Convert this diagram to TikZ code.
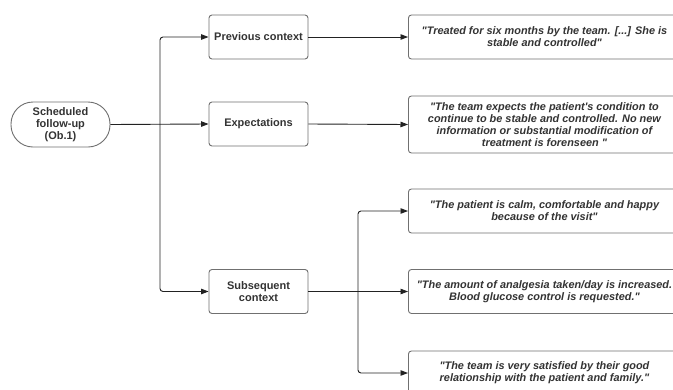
\documentclass[tikz,border=0pt]{standalone}
\usepackage{fontspec}
\setmainfont{Liberation Sans}[Ligatures=TeXOff]
\usetikzlibrary{arrows.meta}
\definecolor{txt}{HTML}{333333}
\definecolor{bord}{HTML}{707070}
\definecolor{lin}{HTML}{222222}
\begin{document}
\begin{tikzpicture}[x=1pt,y=-1pt,
  lbl/.style={draw=bord, line width=0.9pt, rounded corners=3pt, fill=white,
    minimum width=99pt, minimum height=44pt, inner sep=2pt, align=center,
    text=txt, font=\fontsize{11}{11.7}\selectfont\bfseries},
  startbox/.style={lbl, rounded corners=22pt, minimum height=45pt},
  quote/.style={draw=bord, line width=0.9pt, rounded corners=3pt, fill=white,
    minimum width=272pt, minimum height=44pt, inner sep=3pt, align=center, anchor=west,
    text=txt, font=\fontsize{10.9}{12}\selectfont\bfseries\itshape},
  conn/.style={draw=lin, line width=0.9pt, -{Triangle[length=7.5pt,width=5.5pt]}}
]
\useasboundingbox (0,0) rectangle (673,389);
\clip (0,0) rectangle (673,389);
\fill[white] (0,0) rectangle (673,389);

\node[startbox] (start) at (60.5,124.5) {Scheduled\\follow-up\\(Ob.1)};
\node[lbl] (prev) at (258.5,37) {Previous context};
\node[lbl] (exp) at (258.5,124) {Expectations};
\node[lbl] (sub) at (258.5,291.5) {Subsequent\\context};

\node[quote, minimum height=44pt] (q1) at (408,37) {"Treated for six months by the team. [...] She is\\stable and controlled"};
\node[quote, minimum height=57pt] (q2) at (408,124.5) {"The team expects the patient's condition to\\continue to be stable and controlled. No new\\information or substantial modification of\\treatment is forenseen "};
\node[quote] (q3) at (408,211) {"The patient is calm, comfortable and happy\\because of the visit"};
\node[quote] (q4) at (408,291.5) {"The amount of analgesia taken/day is increased.\\Blood glucose control is requested."};
\node[quote] (q5) at (408,373) {"The team is very satisfied by their good\\relationship with the patient and family."};

\coordinate (j1) at (160,124);
\coordinate (j2) at (358,291.5);

\draw[conn] (start.east) -- (exp.west);
\draw[conn, rounded corners=3pt] (j1) |- (prev.west);
\draw[conn, rounded corners=3pt] (j1) |- (sub.west);
\draw[conn] (prev.east) -- (q1.west);
\draw[conn] (exp.east) -- (q2.west);
\draw[conn] (sub.east) -- (q4.west);
\draw[conn, rounded corners=3pt] (j2) |- (q3.west);
\draw[conn, rounded corners=3pt] (j2) |- (q5.west);
\end{tikzpicture}
\end{document}
